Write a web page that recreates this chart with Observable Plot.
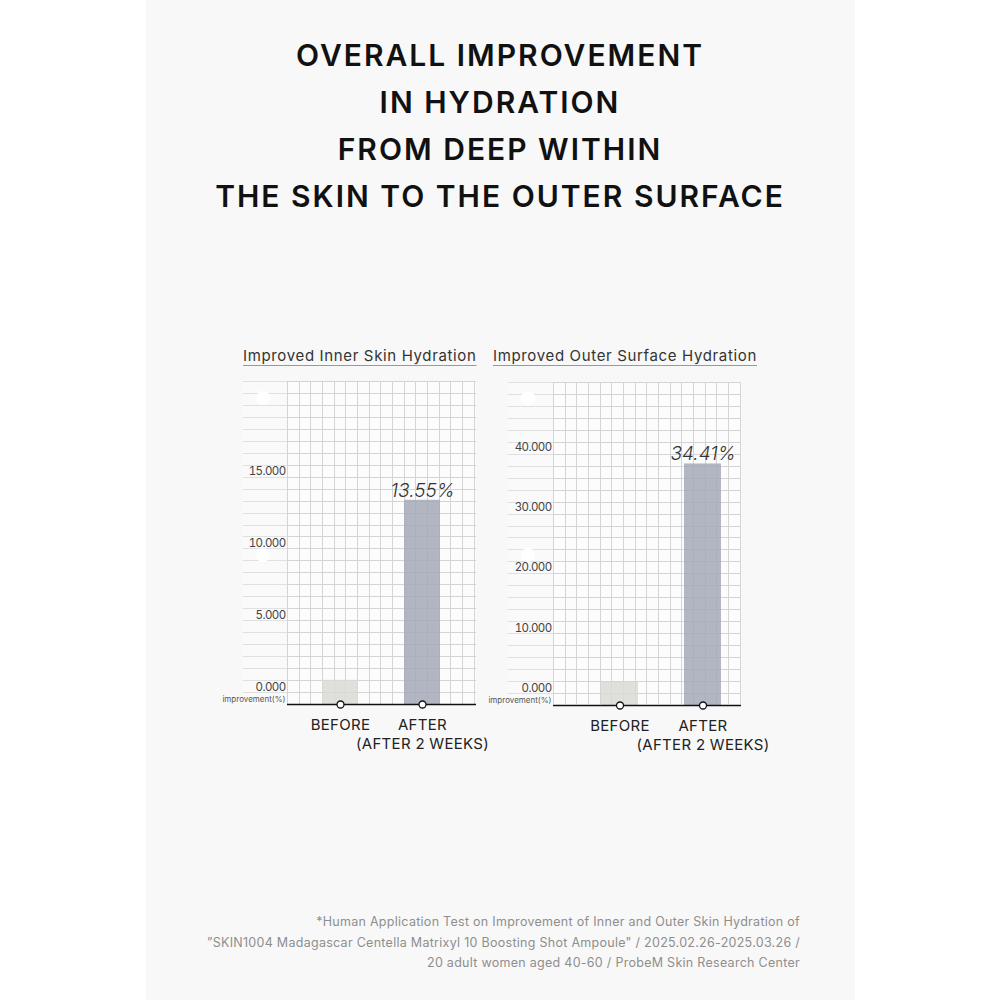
<!DOCTYPE html>
<html>
<head>
<meta charset="utf-8">
<script src="https://cdn.jsdelivr.net/npm/d3@7"></script>
<script src="https://cdn.jsdelivr.net/npm/@observablehq/plot@0.6"></script>
<style>
  html, body { margin: 0; padding: 0; background: #fff; }
  #page { position: relative; width: 1000px; height: 1000px; background: #fff; overflow: hidden; font-family: Inter, "Noto Sans", sans-serif; }
  #panel { position: absolute; left: 146px; top: 0; width: 709px; height: 1000px; background: #f8f8f8; }
  .title { position: absolute; left: 0; width: 1000px; text-align: center; font-weight: 600; font-size: 30px; letter-spacing: 2px; line-height: 47px; top: 32px; color: #111; }
  .sub { position: absolute; top: 346px; font-size: 15px; letter-spacing: 0.65px; color: #333; text-decoration: underline; text-decoration-color: #999; text-underline-offset: 4px; white-space: nowrap; }
  .grid { position: absolute; background-color: #fcfcfc;
    background-image: repeating-linear-gradient(to right, #d4d4d4 0 1px, transparent 1px 11.67px),
                      repeating-linear-gradient(to bottom, #d4d4d4 0 1px, transparent 1px 11.96px); }
  .gridL { position: absolute; background-color: #fafafa;
    background-image: repeating-linear-gradient(to bottom, #e0e0e0 0 1px, transparent 1px 11.96px); }
  .hole { position: absolute; width: 14px; height: 14px; border-radius: 50%; background: #fff; }
  .plot { position: absolute; }
  .plot g[aria-label="y-axis tick label"] { letter-spacing: -0.6px; }
  .plot g[aria-label="x-axis tick label"] { letter-spacing: 0.3px; }
  #foot { position: absolute; right: 200px; top: 912px; text-align: right; font-size: 12.5px; letter-spacing: 0.28px; line-height: 20.5px; color: #8e8e8e; white-space: nowrap; }
</style>
</head>
<body>
<div id="page">
  <div id="panel"></div>
  <div class="title" id="title"></div>

  <div class="sub" id="sub1" style="left:243px;"></div>
  <div class="sub" id="sub2" style="left:493px;"></div>

  <div class="gridL" style="left:243px;top:381px;width:44px;height:323px;"></div>
  <div class="grid" style="left:287px;top:381px;width:189px;height:323px;"></div>
  <div class="hole" style="left:256px;top:391px;"></div>
  <div class="hole" style="left:256px;top:548px;"></div>

  <div class="gridL" style="left:508px;top:382px;width:45px;height:322px;"></div>
  <div class="grid" style="left:553px;top:382px;width:188px;height:322px;"></div>
  <div class="hole" style="left:521px;top:391px;"></div>
  <div class="hole" style="left:521px;top:548px;"></div>

  <div class="plot" id="chart1" style="left:200px;top:370px;"></div>
  <div class="plot" id="chart2" style="left:480px;top:371px;"></div>

  <div id="foot"></div>
</div>
<script>
// ---- text ----
const titleLines = ["OVERALL IMPROVEMENT", "IN HYDRATION", "FROM DEEP WITHIN", "THE SKIN TO THE OUTER SURFACE"];
const subtitles = ["Improved Inner Skin Hydration", "Improved Outer Surface Hydration"];
const footLines = [
  "*Human Application Test on Improvement of Inner and Outer Skin Hydration of",
  "\u201DSKIN1004 Madagascar Centella Matrixyl 10 Boosting Shot Ampoule\" / 2025.02.26-2025.03.26 /",
  "20 adult women aged 40-60 / ProbeM Skin Research Center"
];
const axisUnitLabel = "improvement(%)";

// ---- data ----
const categories = ["BEFORE", "AFTER"];
const categoryLabels = ["BEFORE", "AFTER\n(AFTER 2 WEEKS)"];
const innerValues = [0.5, 13.0];
const innerLabels = ["", "13.55%"];
const innerTicks = [0, 5, 10, 15];
const outerValues = [1.0, 37.2];
const outerLabels = ["", "34.41%"];
const outerTicks = [0, 10, 20, 30, 40];
const barColors = ["#d9d9d5", "#a4a9b9"];

document.getElementById("title").innerHTML = titleLines.join("<br>");
document.getElementById("sub1").textContent = subtitles[0];
document.getElementById("sub2").textContent = subtitles[1];
document.getElementById("foot").innerHTML = footLines.map(s => s.replace(/&/g,"&amp;").replace(/</g,"&lt;")).join("<br>");

const FONT = 'Inter, "Noto Sans", sans-serif';

function makeChart({values, labels, ticks, yDomain, width, marginLeft, marginRight, paddingOuter, align, labelDy}) {
  const data = categories.map((c, i) => ({cat: c, v: values[i], label: labels[i]}));
  const base = yDomain[0];
  return Plot.plot({
    width, height: 395,
    marginLeft, marginRight, marginTop: 11, marginBottom: 61,
    style: {background: "transparent", fontFamily: FONT, overflow: "visible"},
    x: {domain: categories, paddingInner: 0.56, paddingOuter, align, label: null},
    y: {domain: yDomain, label: null},
    color: {domain: categories, range: barColors},
    marks: [
      Plot.barY(data, {x: "cat", y1: base, y2: "v", fill: "cat", fillOpacity: 0.85}),
      Plot.axisY(ticks, {tickSize: 0, tickPadding: 2, tickFormat: d => d.toFixed(3), fontSize: 11.5, fill: "#444", label: null}),
      Plot.axisX({tickSize: 0, tickPadding: 12, tickFormat: d => categoryLabels[categories.indexOf(d)], fontSize: 15, lineHeight: 1.27, fill: "#222", label: null}),
      Plot.ruleY([base], {stroke: "#111", strokeWidth: 1.5}),
      Plot.dot(data, {x: "cat", y: () => base, r: 3.5, fill: "white", stroke: "#111", strokeWidth: 1.3}),
      Plot.text(data.filter(d => d.label), {x: "cat", y: "v", text: "label", dy: labelDy, fontSize: 19, fontStyle: "italic", fontWeight: 300, fill: "#333"}),
      Plot.text([axisUnitLabel], {frameAnchor: "bottom-left", textAnchor: "end", dx: -2, dy: -3, fontSize: 8, fill: "#555"})
    ]
  });
}

document.getElementById("chart1").appendChild(makeChart({
  values: innerValues, labels: innerLabels, ticks: innerTicks,
  yDomain: [-1.18, 21.25], width: 300, marginLeft: 87, marginRight: 24,
  paddingOuter: 0.43, align: 0.5, labelDy: -9
}));
document.getElementById("chart2").appendChild(makeChart({
  values: outerValues, labels: outerLabels, ticks: outerTicks,
  yDomain: [-2.83, 50.7], width: 300, marginLeft: 73, marginRight: 39,
  paddingOuter: 0.41, align: 0.7, labelDy: -10
}));
</script>
</body>
</html>
